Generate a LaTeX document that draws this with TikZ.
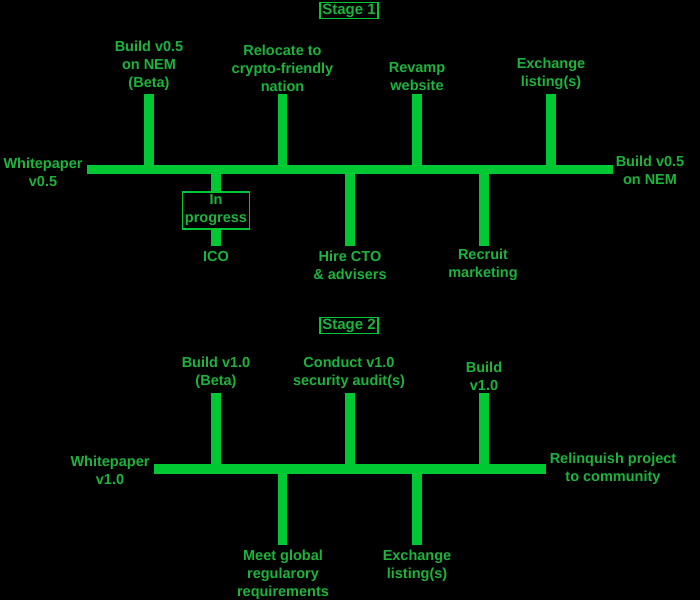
\documentclass[tikz,border=0pt]{standalone}
\usepackage{fontspec}
\setmainfont{Liberation Sans}
\definecolor{linegreen}{HTML}{00C832}
\definecolor{textgreen}{HTML}{1DB43C}
\tikzset{
  lbl/.style={text=textgreen, font=\bfseries\fontsize{14.5}{18}\selectfont, align=center, inner sep=0pt},
  stagebox/.style={text=textgreen, font=\bfseries\fontsize{15}{18}\selectfont, draw=linegreen, line width=1.8pt,
    inner xsep=2pt, inner ysep=1pt, text height=11pt, text depth=3pt},
  progbox/.style={lbl, draw=linegreen, line width=1.5pt, minimum width=67pt, minimum height=37pt},
  spine/.style={draw=linegreen, line width=9.5pt},
  branch/.style={draw=linegreen, line width=9.5pt}
}
\begin{document}
\begin{tikzpicture}[x=1pt,y=-1pt]
\fill[black] (0,0) rectangle (700,600);
\useasboundingbox (0,0) rectangle (700,600);

% ---------- Stage 1 ----------
\node[stagebox] (s1) at (349,10.5) {Stage 1};

\coordinate (a0) at (87,169.5);
\coordinate (a1) at (613,169.5);
\path[spine] (a0) -- (a1);

\coordinate (u1t) at (149,94); \coordinate (u1b) at (149,169.5);
\coordinate (u2t) at (282.5,94); \coordinate (u2b) at (282.5,169.5);
\coordinate (u3t) at (417,94); \coordinate (u3b) at (417,169.5);
\coordinate (u4t) at (551,94); \coordinate (u4b) at (551,169.5);
\path[branch] (u1t) -- (u1b);
\path[branch] (u2t) -- (u2b);
\path[branch] (u3t) -- (u3b);
\path[branch] (u4t) -- (u4b);

\coordinate (d1t) at (216,169.5); \coordinate (d1b) at (216,245.5);
\coordinate (d2t) at (350,169.5); \coordinate (d2b) at (350,245.5);
\coordinate (d3t) at (484,169.5); \coordinate (d3b) at (484,245.5);
\node[progbox] (prog) at (216,210.5) {In\\progress};
\path[branch] (d1t) -- (prog.north);
\path[branch] (prog.south) -- (d1b);
\path[branch] (d2t) -- (d2b);
\path[branch] (d3t) -- (d3b);

\node[lbl] (l1) at (149,65.5) {Build v0.5\\on NEM\\(Beta)};
\node[lbl] (l2) at (282.5,68.5) {Relocate to\\crypto-friendly\\nation};
\node[lbl] (l3) at (417,77) {Revamp\\website};
\node[lbl] (l4) at (551,74) {Exchange\\listing(s)};
\node[lbl] (ls) at (43,172) {Whitepaper\\v0.5};
\node[lbl] (le) at (650,170) {Build v0.5\\on NEM};
\node[lbl] (ico) at (216,257) {ICO};
\node[lbl] (l6) at (350,265) {Hire CTO\\\& advisers};
\node[lbl] (l7) at (483,265) {Recruit\\marketing};

% ---------- Stage 2 ----------
\node[stagebox] (s2) at (349,325.5) {Stage 2};

\coordinate (b0) at (154,469);
\coordinate (b1) at (546,469);
\path[spine] (b0) -- (b1);

\coordinate (v1t) at (216,393); \coordinate (v1b) at (216,469);
\coordinate (v2t) at (350,393); \coordinate (v2b) at (350,469);
\coordinate (v3t) at (484,393); \coordinate (v3b) at (484,469);
\path[branch] (v1t) -- (v1b);
\path[branch] (v2t) -- (v2b);
\path[branch] (v3t) -- (v3b);

\coordinate (w1t) at (282.5,469); \coordinate (w1b) at (282.5,545);
\coordinate (w2t) at (417,469); \coordinate (w2b) at (417,545);
\path[branch] (w1t) -- (w1b);
\path[branch] (w2t) -- (w2b);

\node[lbl] (m1) at (216,373) {Build v1.0\\(Beta)};
\node[lbl] (m2) at (349,373) {Conduct v1.0\\security audit(s)};
\node[lbl] (m3) at (484,376) {Build\\v1.0};
\node[lbl] (ms) at (110,470) {Whitepaper\\v1.0};
\node[lbl] (me) at (613,469) {Relinquish project\\to community};
\node[lbl] (m4) at (283,574.5) {Meet global\\regularory\\requirements};
\node[lbl] (m5) at (417,566) {Exchange\\listing(s)};
\end{tikzpicture}
\end{document}
